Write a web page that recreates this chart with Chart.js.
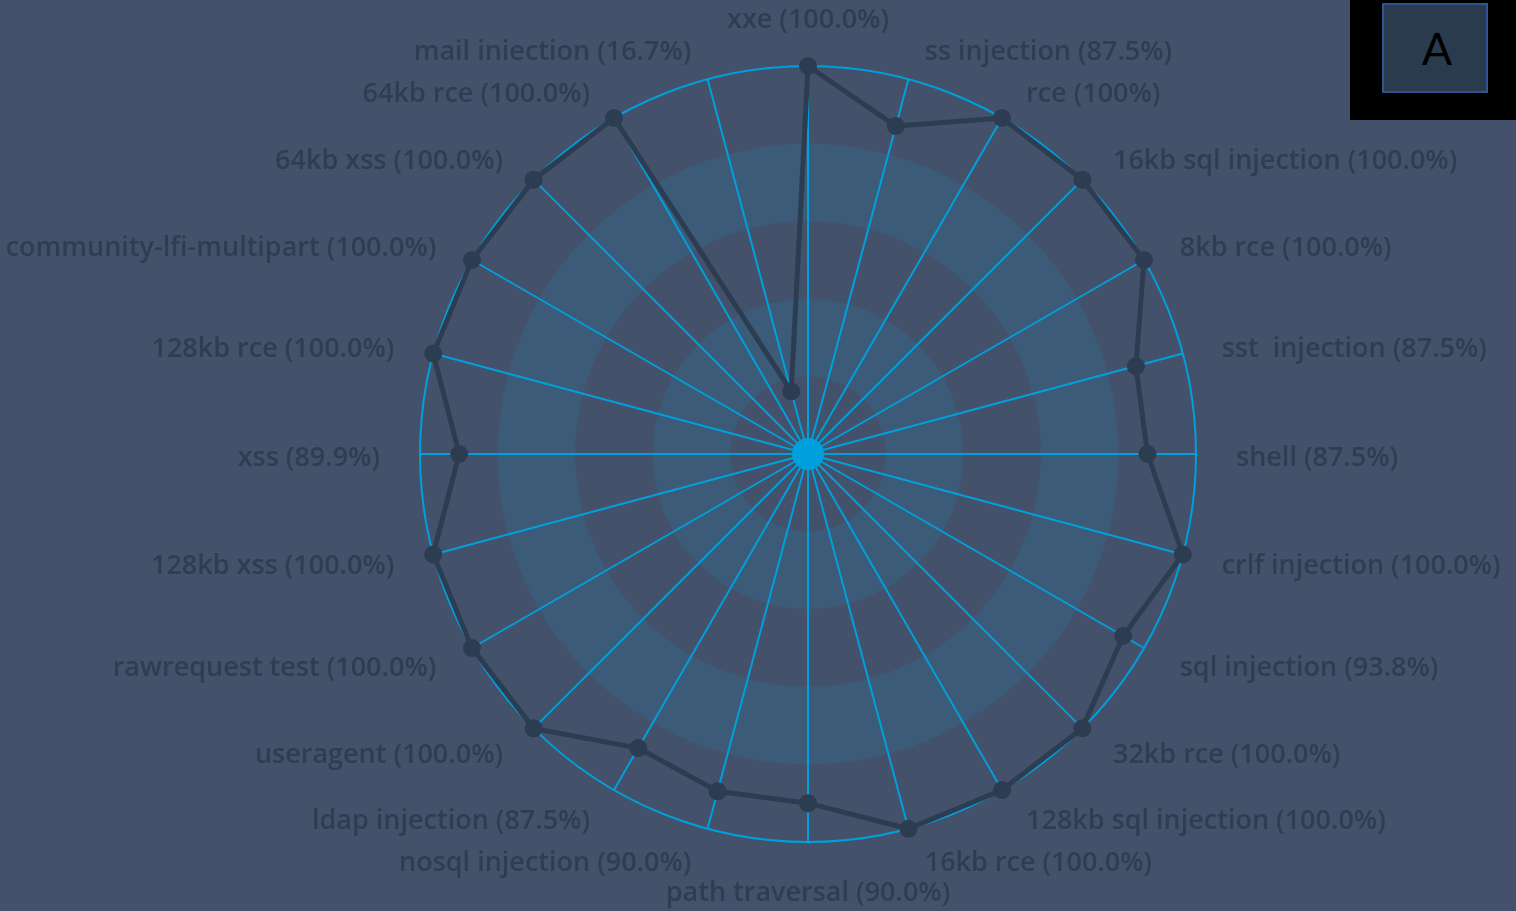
<!DOCTYPE html>
<html>
<head>
<meta charset="utf-8">
<script src="https://cdn.jsdelivr.net/npm/chart.js@4/dist/chart.umd.min.js"></script>
<style>
  html, body { margin: 0; padding: 0; background: #44516a; overflow: hidden; }
  #wrap { position: absolute; left: 0; top: 0; width: 1516px; height: 911px; }
  #badge { position: absolute; left: 1350px; top: 0; width: 166px; height: 120px; background: #000; }
  #badge .sq { position: absolute; left: 32px; top: 3px; width: 98px; height: 86px; background: #2b3b4e; border: 2px solid #2f5494; display: flex; align-items: center; justify-content: center; font-family: Lato, sans-serif; font-size: 45px; color: #000; padding-left: 4px; box-sizing: content-box; }
</style>
</head>
<body>
<div id="wrap"><canvas id="c" width="1516" height="911"></canvas></div>
<div id="badge"><div class="sq">A</div></div>
<script>
const labels = [
  "xxe (100.0%)", "ss injection (87.5%)", "rce (100%)", "16kb sql injection (100.0%)",
  "8kb rce (100.0%)", "sst  injection (87.5%)", "shell (87.5%)", "crlf injection (100.0%)",
  "sql injection (93.8%)", "32kb rce (100.0%)", "128kb sql injection (100.0%)", "16kb rce (100.0%)",
  "path traversal (90.0%)", "nosql injection (90.0%)", "ldap injection (87.5%)", "useragent (100.0%)",
  "rawrequest test (100.0%)", "128kb xss (100.0%)", "xss (89.9%)", "128kb rce (100.0%)",
  "community-lfi-multipart (100.0%)", "64kb xss (100.0%)", "64kb rce (100.0%)", "mail iniection (16.7%)"
];
const values = [100, 87.5, 100, 100, 100, 87.5, 87.5, 100, 93.8, 100, 100, 100,
                90, 90, 87.5, 100, 100, 100, 89.9, 100, 100, 100, 100, 16.7];
const ringSteps = [0, 20, 40, 60, 80, 100];

const LABEL_FONT = '600 27px "Open Sans", sans-serif';
const LABEL_COLOR = '#2f3d52';

const ringPlugin = {
  id: 'rings',
  beforeDraw(chart) {
    const s = chart.scales.r;
    const ctx = chart.ctx;
    ctx.save();
    for (let i = ringSteps.length - 1; i > 0; i--) {
      const r = s.getDistanceFromCenterForValue(ringSteps[i]);
      ctx.beginPath();
      ctx.arc(s.xCenter, s.yCenter, r, 0, Math.PI * 2);
      ctx.fillStyle = (i % 2 === 0) ? '#3b5b78' : '#44516a';
      ctx.fill();
    }
    ctx.restore();
  },
  beforeDatasetsDraw(chart) {
    const s = chart.scales.r;
    const ctx = chart.ctx;
    ctx.save();
    ctx.beginPath();
    ctx.arc(s.xCenter, s.yCenter, 16, 0, Math.PI * 2);
    ctx.fillStyle = '#00a0dc';
    ctx.fill();
    ctx.restore();
  },
  afterDraw(chart) {
    const s = chart.scales.r;
    const ctx = chart.ctx;
    const n = chart.data.labels.length;
    ctx.save();
    ctx.font = LABEL_FONT;
    ctx.fillStyle = LABEL_COLOR;
    for (let i = 0; i < n; i++) {
      const p = s.getPointPosition(i, s.drawingArea + 32);
      const deg = i * 360 / n;
      let x = p.x, y = p.y;
      if (deg === 0) {
        ctx.textAlign = 'center'; ctx.textBaseline = 'bottom';
      } else if (deg === 180) {
        ctx.textAlign = 'center'; ctx.textBaseline = 'top'; y += 6;
      } else if (deg < 180) {
        ctx.textAlign = 'left'; ctx.textBaseline = 'middle'; x += 8; y += 4;
      } else {
        ctx.textAlign = 'right'; ctx.textBaseline = 'middle'; x -= 8; y += 4;
      }
      ctx.fillText(chart.data.labels[i], x, y);
    }
    ctx.restore();
  }
};

new Chart(document.getElementById('c'), {
  type: 'radar',
  data: {
    labels: labels,
    datasets: [{
      data: values,
      borderColor: '#2c3d52',
      backgroundColor: 'rgba(0,0,0,0)',
      borderWidth: 5,
      fill: false,
      pointRadius: 9,
      pointBackgroundColor: '#2c3d52',
      pointBorderColor: '#2c3d52',
      pointBorderWidth: 0
    }]
  },
  options: {
    responsive: false,
    animation: false,
    devicePixelRatio: 1,
    layout: { padding: { left: 420, right: 320, top: 66, bottom: 69 } },
    plugins: { legend: { display: false }, tooltip: { enabled: false } },
    scales: {
      r: {
        min: 0, max: 100,
        ticks: { display: false, stepSize: 20 },
        grid: {
          circular: true,
          color: (ctx) => ctx.tick && ctx.tick.value === 100 ? '#00a0dc' : 'rgba(0,0,0,0)',
          lineWidth: 2
        },
        angleLines: { color: '#00a0dc', lineWidth: 2 },
        pointLabels: { display: false }
      }
    }
  },
  plugins: [ringPlugin]
});
</script>
</body>
</html>
